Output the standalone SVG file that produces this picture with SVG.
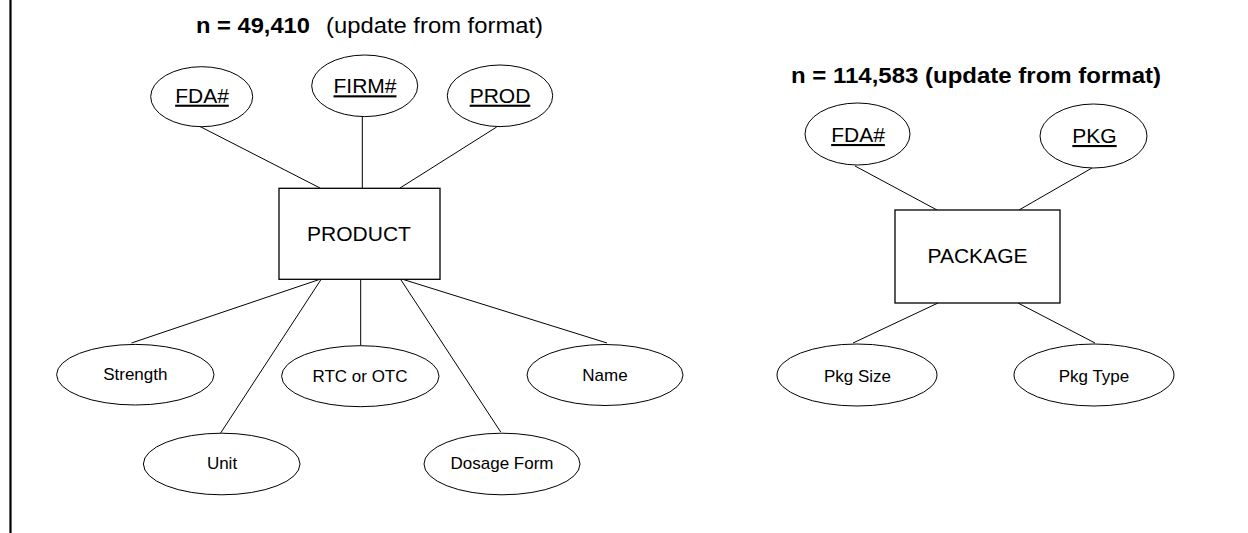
<svg xmlns="http://www.w3.org/2000/svg" width="1248" height="533" viewBox="0 0 1248 533">
<style>
text{font-family:"Liberation Sans",Arial,sans-serif;fill:#000}
.ent{fill:#fff;stroke:#000;stroke-width:1.3}
.att{fill:#fff;stroke:#000;stroke-width:1}
.key{font-size:21px;text-anchor:middle;text-decoration:underline}
.lbl{font-size:17px;text-anchor:middle}
.big{font-size:21px;text-anchor:middle}
.ttl{font-size:22px}
#connectors line{stroke:#000;stroke-width:1}
</style>
<rect width="1248" height="533" fill="#fff"/>
<line x1="10.5" y1="0" x2="10.5" y2="533" stroke="#000" stroke-width="2.2"/>
<g id="title-product">
<text class="ttl" x="196" y="33" font-weight="bold" textLength="114" lengthAdjust="spacingAndGlyphs">n = 49,410</text>
<text class="ttl" x="326" y="33" textLength="217" lengthAdjust="spacingAndGlyphs">(update from format)</text>
</g>
<g id="title-package">
<text class="ttl" x="791" y="83" font-weight="bold" textLength="370" lengthAdjust="spacingAndGlyphs">n = 114,583 (update from format)</text>
</g>
<g id="connectors">
<line x1="200" y1="126.5" x2="320" y2="188"/>
<line x1="362.3" y1="116.5" x2="362.3" y2="188"/>
<line x1="496.7" y1="127" x2="400" y2="188"/>
<line x1="319.3" y1="279.5" x2="131.5" y2="343"/>
<line x1="321" y1="279.5" x2="220" y2="434"/>
<line x1="360.7" y1="279.5" x2="360.7" y2="345.7"/>
<line x1="400.7" y1="279.5" x2="500.7" y2="432"/>
<line x1="403.3" y1="279.5" x2="607" y2="343"/>
<line x1="855" y1="166" x2="937" y2="210"/>
<line x1="1092" y1="168" x2="1019" y2="210"/>
<line x1="938" y1="303" x2="853" y2="343"/>
<line x1="1018" y1="303" x2="1095" y2="343"/>
</g>
<g id="product">
<rect class="ent" x="279" y="188.3" width="161" height="91"/>
<text class="big" x="359" y="241">PRODUCT</text>
</g>
<g id="prod-fda">
<ellipse class="att" cx="201.7" cy="96.7" rx="51" ry="30"/>
<text class="key" x="202" y="102.7">FDA#</text>
</g>
<g id="prod-firm">
<ellipse class="att" cx="364.7" cy="85.8" rx="53" ry="30.8"/>
<text class="key" x="365" y="93.3">FIRM#</text>
</g>
<g id="prod-prod">
<ellipse class="att" cx="500" cy="95.8" rx="52.7" ry="30.8"/>
<text class="key" x="500" y="102.7">PROD</text>
</g>
<g id="strength">
<ellipse class="att" cx="135.3" cy="374.7" rx="78.7" ry="30.3"/>
<text class="lbl" x="135.3" y="380">Strength</text>
</g>
<g id="unit">
<ellipse class="att" cx="221.7" cy="464" rx="78.3" ry="30.8"/>
<text class="lbl" x="222" y="469">Unit</text>
</g>
<g id="rtc-otc">
<ellipse class="att" cx="360.3" cy="376.2" rx="78.7" ry="30.5"/>
<text class="lbl" x="360" y="381.7">RTC or OTC</text>
</g>
<g id="dosage-form">
<ellipse class="att" cx="502" cy="464" rx="78" ry="30.8"/>
<text class="lbl" x="502" y="469">Dosage Form</text>
</g>
<g id="name">
<ellipse class="att" cx="605" cy="375" rx="78" ry="30.5"/>
<text class="lbl" x="605" y="380.5">Name</text>
</g>
<g id="package">
<rect class="ent" x="895" y="210" width="165" height="93"/>
<text class="big" x="977.5" y="263">PACKAGE</text>
</g>
<g id="pkg-fda">
<ellipse class="att" cx="857.5" cy="134" rx="52.5" ry="31"/>
<text class="key" x="858" y="142">FDA#</text>
</g>
<g id="pkg-pkg">
<ellipse class="att" cx="1093.5" cy="136" rx="53.5" ry="32"/>
<text class="key" x="1094.5" y="143">PKG</text>
</g>
<g id="pkg-size">
<ellipse class="att" cx="857" cy="375" rx="80" ry="31"/>
<text class="lbl" x="857.5" y="382" font-size="18">Pkg Size</text>
</g>
<g id="pkg-type">
<ellipse class="att" cx="1094" cy="375" rx="80" ry="31"/>
<text class="lbl" x="1094" y="382" font-size="18">Pkg Type</text>
</g>
</svg>
